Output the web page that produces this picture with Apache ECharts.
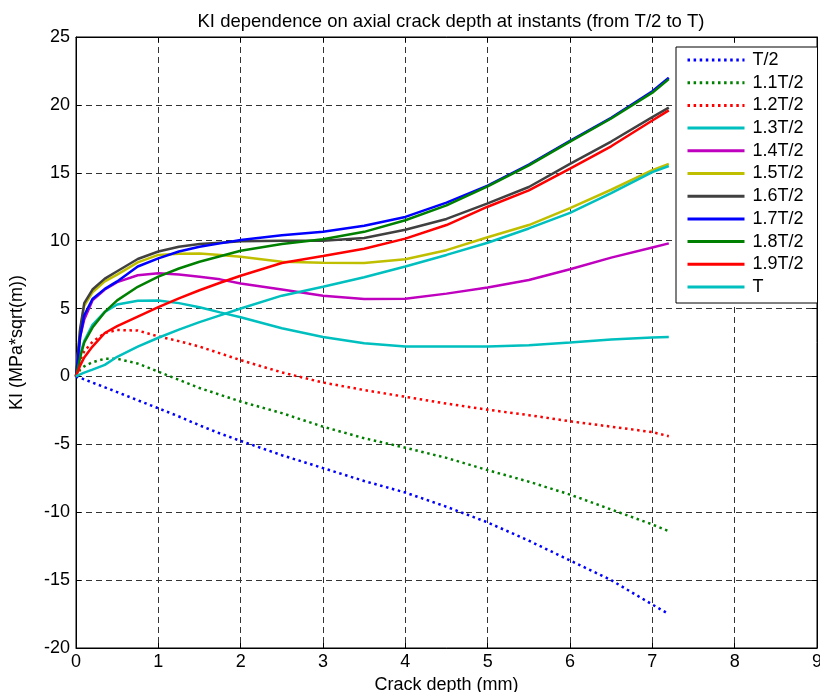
<!DOCTYPE html>
<html>
<head>
<meta charset="utf-8">
<script src="https://cdn.jsdelivr.net/npm/echarts@6/dist/echarts.min.js"></script>
<style>
  html, body { margin: 0; padding: 0; background: #fff; }
  #chart { width: 820px; height: 692px; }
</style>
</head>
<body>
<div id="chart"></div>
<script>
// Crack depth (mm) sample points shared by every curve
const depth = [0, 0.05, 0.1, 0.2, 0.35, 0.5, 0.75, 1, 1.25, 1.5, 1.75, 2, 2.5, 3, 3.5, 4, 4.5, 5, 5.5, 6, 6.5, 7, 7.2];

// KI (MPa*sqrt(m)) at each instant
const kT05 = [0, -0.1, -0.22, -0.45, -0.8, -1.15, -1.75, -2.35, -2.95, -3.6, -4.2, -4.75, -5.8, -6.75, -7.7, -8.55, -9.6, -10.75, -12.1, -13.55, -15.0, -16.8, -17.5];
const kT11 = [0, 0.5, 0.75, 1.05, 1.3, 1.3, 0.95, 0.35, -0.25, -0.85, -1.35, -1.85, -2.7, -3.7, -4.55, -5.25, -6.0, -6.9, -7.75, -8.7, -9.8, -10.9, -11.4];
const kT12 = [0, 1.2, 1.85, 2.55, 3.2, 3.42, 3.38, 2.95, 2.6, 2.2, 1.7, 1.2, 0.3, -0.45, -1.0, -1.5, -2.0, -2.45, -2.85, -3.3, -3.7, -4.1, -4.4];
const kT13 = [0, 1.6, 2.6, 3.8, 4.75, 5.3, 5.58, 5.6, 5.4, 5.1, 4.72, 4.36, 3.55, 2.9, 2.45, 2.2, 2.2, 2.2, 2.3, 2.5, 2.72, 2.86, 2.9];
const kT14 = [0, 2.9, 4.2, 5.6, 6.4, 6.95, 7.45, 7.6, 7.5, 7.35, 7.15, 6.85, 6.4, 5.95, 5.7, 5.72, 6.1, 6.55, 7.1, 7.9, 8.75, 9.5, 9.8];
const kT15 = [0, 3.4, 5.2, 6.2, 7.0, 7.5, 8.4, 8.95, 9.03, 9.05, 8.95, 8.82, 8.45, 8.38, 8.35, 8.63, 9.3, 10.25, 11.15, 12.4, 13.75, 15.2, 15.65];
const kT16 = [0, 3.5, 5.4, 6.4, 7.2, 7.75, 8.65, 9.2, 9.55, 9.75, 9.85, 9.95, 10.0, 10.0, 10.2, 10.8, 11.6, 12.75, 13.95, 15.65, 17.3, 19.1, 19.8];
const kT17 = [0, 2.9, 4.5, 5.7, 6.45, 7.0, 8.1, 8.7, 9.2, 9.55, 9.8, 10.05, 10.4, 10.66, 11.1, 11.75, 12.8, 14.05, 15.6, 17.35, 19.05, 21.0, 22.0];
const kT18 = [0, 1.4, 2.5, 3.6, 4.75, 5.6, 6.6, 7.35, 7.95, 8.45, 8.85, 9.26, 9.75, 10.1, 10.65, 11.5, 12.6, 14.0, 15.55, 17.3, 19.0, 20.9, 21.9];
const kT19 = [0, 0.8, 1.4, 2.2, 3.2, 3.7, 4.4, 5.1, 5.75, 6.35, 6.9, 7.42, 8.35, 8.87, 9.4, 10.15, 11.15, 12.5, 13.7, 15.3, 16.95, 18.85, 19.6];
const kT20 = [0, 0.15, 0.28, 0.5, 0.85, 1.45, 2.2, 2.85, 3.45, 4.0, 4.5, 5.0, 5.95, 6.6, 7.3, 8.1, 8.95, 9.85, 10.9, 12.05, 13.5, 15.05, 15.5];

const seriesNames = ['T/2', '1.1T/2', '1.2T/2', '1.3T/2', '1.4T/2', '1.5T/2', '1.6T/2', '1.7T/2', '1.8T/2', '1.9T/2', 'T'];
const seriesValues = [kT05, kT11, kT12, kT13, kT14, kT15, kT16, kT17, kT18, kT19, kT20];
const seriesColors = ['#0000ff', '#008000', '#ff0000', '#00bfbf', '#bf00bf', '#bfbf00', '#404040', '#0000ff', '#008000', '#ff0000', '#00bfbf'];
const dottedSeries = ['T/2', '1.1T/2', '1.2T/2'];

const xTicks = { min: 0, max: 9, step: 1 };
const yTicks = { min: -20, max: 25, step: 5 };

const FONT = 'Liberation Sans, Arial, sans-serif';
const FS = 18;

const series = seriesNames.map((name, i) => ({
  name: name,
  type: 'line',
  symbol: 'none',
  showSymbol: false,
  data: depth.map((d, j) => [d, seriesValues[i][j]]),
  lineStyle: {
    color: seriesColors[i],
    width: 2.5,
    type: dottedSeries.includes(name) ? [2.5, 3.6] : 'solid',
    cap: 'butt'
  },
  itemStyle: { color: seriesColors[i] },
  z: 3 + i
}));

const gridLine = { show: true, lineStyle: { color: '#333', width: 1, type: [6, 4] } };

const chart = echarts.init(document.getElementById('chart'), null, { renderer: 'canvas' });
chart.setOption({
  animation: false,
  backgroundColor: '#fff',
  title: {
    text: 'KI dependence on axial crack depth at instants (from T/2 to T)',
    left: 446,
    top: 7,
    textAlign: 'center',
    textStyle: { fontFamily: FONT, fontSize: 18.5, fontWeight: 'normal', color: '#000' }
  },
  grid: {
    left: 76, right: 3, top: 37, bottom: 44,
    outerBoundsMode: 'none',
    containLabel: false,
    show: true, borderColor: '#000', borderWidth: 1, backgroundColor: 'transparent'
  },
  legend: {
    orient: 'vertical',
    left: 676,
    top: 47,
    data: seriesNames,
    itemWidth: 57,
    itemHeight: 14,
    itemGap: 4.7,
    padding: [4, 14, 7, 10],
    backgroundColor: '#fff',
    borderColor: '#000',
    borderWidth: 1,
    borderRadius: 0,
    selectedMode: false,
    // line-only keys: the marker in the middle of each key is hidden
    itemStyle: { opacity: 0, borderWidth: 0 },
    lineStyle: { opacity: 1, width: 3 },
    textStyle: { fontFamily: FONT, fontSize: FS, color: '#000', padding: [0, 0, 0, 3] }
  },
  xAxis: [{
    type: 'value',
    min: xTicks.min, max: xTicks.max, interval: xTicks.step,
    name: 'Crack depth (mm)',
    nameLocation: 'middle',
    nameGap: 26,
    nameTextStyle: { fontFamily: FONT, fontSize: FS, color: '#000' },
    axisLine: { show: true, onZero: false, lineStyle: { color: '#000', width: 1 } },
    axisTick: { show: true, inside: true, length: 5, lineStyle: { color: '#000' } },
    axisLabel: { fontFamily: FONT, fontSize: FS, color: '#000', margin: 5, showMaxLabel: true },
    splitLine: gridLine
  }, {
    type: 'value', position: 'top',
    min: xTicks.min, max: xTicks.max, interval: xTicks.step,
    axisLine: { show: true, onZero: false, lineStyle: { color: '#000' } },
    axisTick: { show: true, inside: true, length: 5, lineStyle: { color: '#000' } },
    axisLabel: { show: false },
    splitLine: { show: false }
  }],
  yAxis: [{
    type: 'value',
    min: yTicks.min, max: yTicks.max, interval: yTicks.step,
    name: 'KI (MPa*sqrt(m))',
    nameLocation: 'middle',
    nameGap: 50,
    nameRotate: 90,
    nameTextStyle: { fontFamily: FONT, fontSize: FS, color: '#000' },
    axisLine: { show: true, onZero: false, lineStyle: { color: '#000', width: 1 } },
    axisTick: { show: true, inside: true, length: 5, lineStyle: { color: '#000' } },
    axisLabel: { fontFamily: FONT, fontSize: FS, color: '#000', margin: 6 },
    splitLine: gridLine
  }, {
    type: 'value', position: 'right',
    min: yTicks.min, max: yTicks.max, interval: yTicks.step,
    axisLine: { show: true, onZero: false, lineStyle: { color: '#000' } },
    axisTick: { show: true, inside: true, length: 5, lineStyle: { color: '#000' } },
    axisLabel: { show: false },
    splitLine: { show: false }
  }],
  series: series
});
</script>
</body>
</html>
